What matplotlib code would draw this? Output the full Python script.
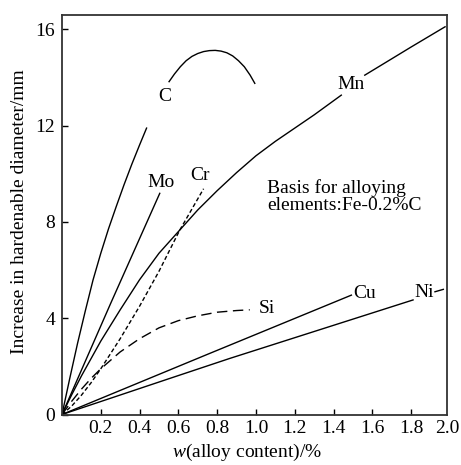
import matplotlib
matplotlib.use("Agg")
import matplotlib.pyplot as plt

plt.rcParams['font.family'] = ['Liberation Serif', 'DejaVu Serif']
plt.rcParams['mathtext.fontset'] = 'custom'
plt.rcParams['mathtext.rm'] = 'Liberation Serif'
plt.rcParams['mathtext.it'] = 'Liberation Serif:italic'

# ---- data ----
c_x1 = [0, 0.04, 0.08, 0.12, 0.16, 0.20, 0.24, 0.28, 0.32, 0.36, 0.40, 0.436]
c_y1 = [0, 1.5, 2.95, 4.3, 5.59, 6.7, 7.72, 8.65, 9.55, 10.4, 11.2, 11.9]
c_x2 = [0.552, 0.58, 0.61, 0.64, 0.67, 0.70, 0.73, 0.76, 0.79, 0.82, 0.85,
        0.88, 0.91, 0.94, 0.97, 0.994]
c_y2 = [13.83, 14.15, 14.45, 14.7, 14.88, 15.0, 15.08, 15.12, 15.13, 15.1, 15.03,
        14.9, 14.7, 14.45, 14.1, 13.76]

mo_x = [0, 0.25, 0.504]
mo_y = [0, 4.6, 9.19]

cr_x = [0, 0.05, 0.1, 0.15, 0.2, 0.3, 0.4, 0.5, 0.607, 0.73]
cr_y = [0, 0.35, 0.8, 1.32, 1.9, 3.15, 4.5, 5.95, 7.66, 9.38]

mn_x1 = [0, 0.05, 0.1, 0.2, 0.3, 0.4, 0.5, 0.6, 0.7, 0.8, 0.9, 1.0, 1.1, 1.2, 1.3, 1.44]
mn_y1 = [0, 0.82, 1.6, 3.05, 4.35, 5.6, 6.7, 7.6, 8.5, 9.3, 10.05, 10.75, 11.35, 11.9,
         12.45, 13.27]
mn_x2 = [1.561, 1.7, 1.8, 1.975]
mn_y2 = [14.10, 14.78, 15.27, 16.11]

si_x = [0, 0.05, 0.1, 0.15, 0.2, 0.3, 0.4, 0.5, 0.6, 0.7, 0.8, 0.9, 0.968]
si_y = [0, 0.55, 1.05, 1.5, 1.9, 2.6, 3.15, 3.6, 3.9, 4.1, 4.25, 4.32, 4.35]

cu_x = [0, 0.75, 1.492]
cu_y = [0, 2.5, 4.96]

ni_x1 = [0, 0.556, 0.865, 1.81]
ni_y1 = [0, 1.50, 2.33, 4.76]
ni_x2 = [1.923, 1.966]
ni_y2 = [5.10, 5.20]

labels = ["C", "Mo", "Cr", "Mn", "Si", "Cu", "Ni"]
label_x = [0.530, 0.508, 0.711, 1.491, 1.054, 1.56, 1.865]
label_y = [13.2, 9.62, 9.93, 13.73, 4.42, 5.04, 5.07]

x_ticks = [0.2, 0.4, 0.6, 0.8, 1.0, 1.2, 1.4, 1.6, 1.8, 2.0]
x_ticklabels = ["0.2", "0.4", "0.6", "0.8", "1.0", "1.2", "1.4", "1.6", "1.8", "2.0"]
y_ticks = [0, 4, 8, 12, 16]
y_ticklabels = ["0", "4", "8", "12", "16"]

note = "Basis for alloying\nelements:Fe-0.2%C"
xlabel = r"$w$(alloy content)/%"
ylabel = "Increase in hardenable diameter/mm"

# ---- figure ----
W, H = 461, 465
fig = plt.figure(figsize=(W / 100, H / 100), dpi=100)
ax = fig.add_axes([62 / W, 1 - 414.5 / H, 385 / W, 399.5 / H])

lw = 1.0
k = 'black'
ax.plot(c_x1, c_y1, color=k, lw=lw)
ax.plot(c_x2, c_y2, color=k, lw=lw)
ax.plot(mo_x, mo_y, color=k, lw=lw)
ax.plot(cr_x, cr_y, color=k, lw=lw, dashes=(3.0, 1.8))
ax.plot(mn_x1, mn_y1, color=k, lw=lw)
ax.plot(mn_x2, mn_y2, color=k, lw=lw)
ax.plot(si_x, si_y, color=k, lw=lw, dashes=(7.5, 4.0))
ax.plot(cu_x, cu_y, color=k, lw=lw)
ax.plot(ni_x1, ni_y1, color=k, lw=lw)
ax.plot(ni_x2, ni_y2, color=k, lw=lw)

fs = 14
for t, x, y in zip(labels, label_x, label_y):
    ax.text(x, y, t, ha='center', va='center', fontsize=fs)

ax.text(1.059, 9.05, note, ha='left', va='center', fontsize=fs, linespacing=0.95)

ax.set_xlim(0, 1.985)
ax.set_ylim(0, 16.6)
ax.set_xticks(x_ticks[:-1])
ax.set_xticklabels(x_ticklabels[:-1])
ax.set_yticks(y_ticks)
ax.set_yticklabels(y_ticklabels)
ax.tick_params(direction='in', length=4, width=1, labelsize=fs, pad=4)
ax.tick_params(axis='y', pad=5)
# last x label sits at the right spine
ax.text(1.0, -0.014, x_ticklabels[-1], transform=ax.transAxes, ha='center', va='top', fontsize=fs)

for s in ax.spines.values():
    s.set_linewidth(1.3)
    s.set_color('#333333')

ax.set_xlabel(xlabel, fontsize=fs)
ax.xaxis.label.set_va('center')
ax.xaxis.set_label_coords(0.48, -0.096)
ax.set_ylabel(ylabel, fontsize=fs)
ax.yaxis.label.set_va('center')
ax.yaxis.set_label_coords(-0.11, 0.507)

fig.savefig("out.png", dpi=100)
